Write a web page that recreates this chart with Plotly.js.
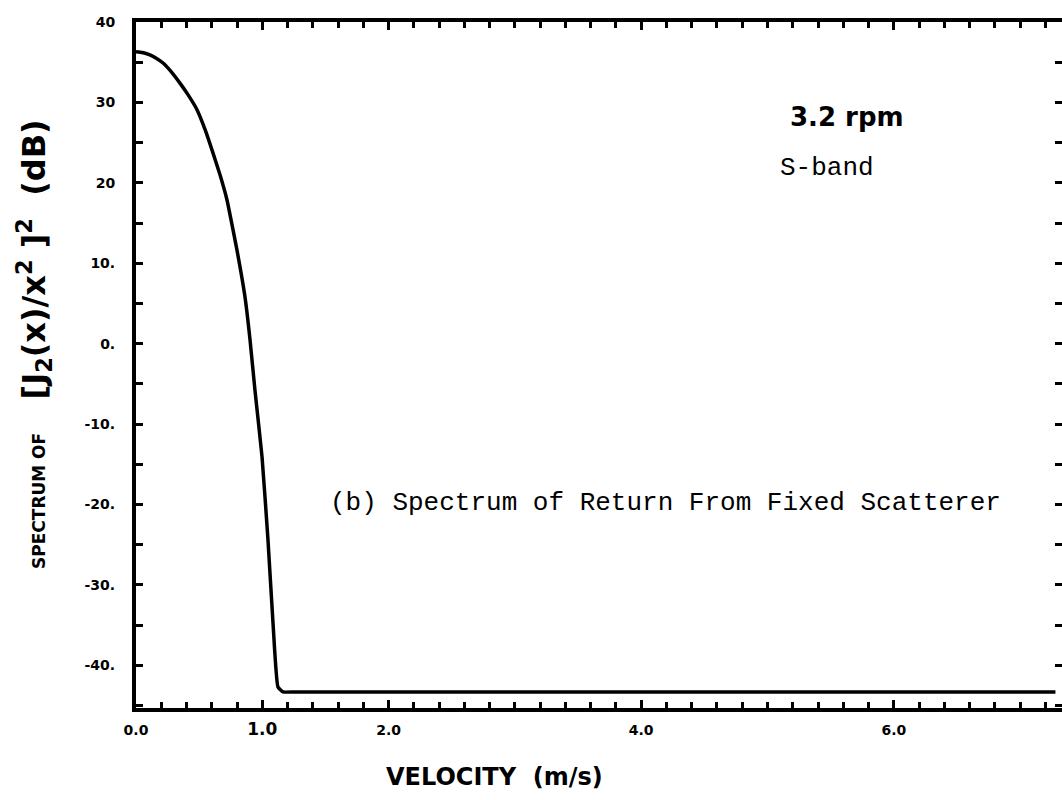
<!DOCTYPE html>
<html>
<head>
<meta charset="utf-8">
<script src="https://cdn.plot.ly/plotly-3.0.1.min.js"></script>
<style>html,body{margin:0;padding:0;background:#fff;}#chart{width:1062px;height:800px;}</style>
</head>
<body>
<div id="chart"></div>
<script>
// Data
const velocity = [0, 0.05, 0.11, 0.16, 0.214, 0.28, 0.348, 0.41, 0.483, 0.55, 0.61, 0.665, 0.72, 0.76, 0.80, 0.863, 0.903, 0.942, 0.998, 1.045, 1.085, 1.124, 1.164, 1.25, 1.4, 7.2, 7.28];
const spectrumDb = [36.3, 36.2, 35.9, 35.5, 34.9, 33.8, 32.4, 31.0, 29.1, 26.5, 23.7, 21.0, 17.9, 14.8, 11.6, 5.8, 0.45, -5.8, -14.1, -24.4, -34.8, -42.7, -43.3, -43.3, -43.3, -43.3, -43.3];
const xTickVals = [0, 1, 2, 4, 6];
const xTickText = ["0.0", "<span style='font-size:17px'>1.0</span>", "2.0", "4.0", "6.0"];
const yTickVals = [40, 30, 20, 10, 0, -10, -20, -30, -40];
const yTickText = ["40", "30", "20", "10.", "0.", "-10.", "-20.", "-30.", "-40."];

// plot-area pixel geometry
const L = 136, R = 1062, T = 22, B = 708;
const px = x => (x - L) / (R - L);
const py = y => (B - y) / (B - T);

const tickFont = {family: "DejaVu Sans", size: 14, color: "#000", weight: "bold"};

const trace = {
  x: velocity, y: spectrumDb, type: "scatter", mode: "lines",
  line: {color: "#000", width: 3.5, shape: "spline", smoothing: 0.4}, hoverinfo: "skip", showlegend: false
};

const layout = {
  width: 1062, height: 800,
  margin: {l: L, r: 1062 - R, t: T, b: 800 - B, pad: 0},
  paper_bgcolor: "#fff", plot_bgcolor: "#fff",
  showlegend: false,
  xaxis: {
    range: [0, (R - L) / 126.3],
    showgrid: false, zeroline: false,
    showline: true, linecolor: "#000", linewidth: 4, mirror: "ticks",
    ticks: "inside", ticklen: 8, tickwidth: 3, tickcolor: "#000",
    tickmode: "array", tickvals: xTickVals, ticktext: xTickText,
    tickfont: tickFont, ticklabelstandoff: 6,
    minor: {tickmode: "linear", tick0: 0, dtick: 0.2, ticks: "inside", ticklen: 6, tickwidth: 3, tickcolor: "#000"}
  },
  yaxis: {
    range: [-45.3, 40],
    showgrid: false, zeroline: false,
    showline: true, linecolor: "#000", linewidth: 4, mirror: "ticks",
    ticks: "inside", ticklen: 7, tickwidth: 3, tickcolor: "#000",
    tickmode: "array", tickvals: yTickVals, ticktext: yTickText,
    tickfont: tickFont, ticklabelstandoff: 14,
    minor: {tickmode: "linear", tick0: 0, dtick: 5, ticks: "inside", ticklen: 7, tickwidth: 3, tickcolor: "#000"}
  },
  annotations: [
    {text: "3.2 rpm", xref: "paper", yref: "paper", x: px(847), y: py(117), xanchor: "center", yanchor: "middle",
     showarrow: false, font: {family: "DejaVu Sans", size: 26, color: "#000", weight: "bold"}},
    {text: "S-band", xref: "paper", yref: "paper", x: px(778), y: py(168), xanchor: "left", yanchor: "middle",
     showarrow: false, font: {family: "Liberation Mono", size: 26, color: "#000"}},
    {text: "(b) Spectrum of Return From Fixed Scatterer", xref: "paper", yref: "paper", x: px(328), y: py(503), xanchor: "left", yanchor: "middle",
     showarrow: false, font: {family: "Liberation Mono", size: 26, color: "#000"}},
    {text: "VELOCITY  (m/s)", xref: "paper", yref: "paper", x: px(494), y: py(777), xanchor: "center", yanchor: "middle",
     showarrow: false, font: {family: "DejaVu Sans", size: 24, color: "#000", weight: "bold"}},
    {text: "<span style='font-size:17px'>SPECTRUM OF</span>   [J<sub>2</sub>(x)/x<sup>2</sup> ]<sup>2</sup>  (dB)", xref: "paper", yref: "paper",
     x: px(34), y: py(344), xanchor: "center", yanchor: "middle", textangle: -90,
     showarrow: false, font: {family: "DejaVu Sans", size: 32, color: "#000", weight: "bold"}}
  ]
};

Plotly.newPlot("chart", [trace], layout, {displayModeBar: false, staticPlot: true});
</script>
</body>
</html>
